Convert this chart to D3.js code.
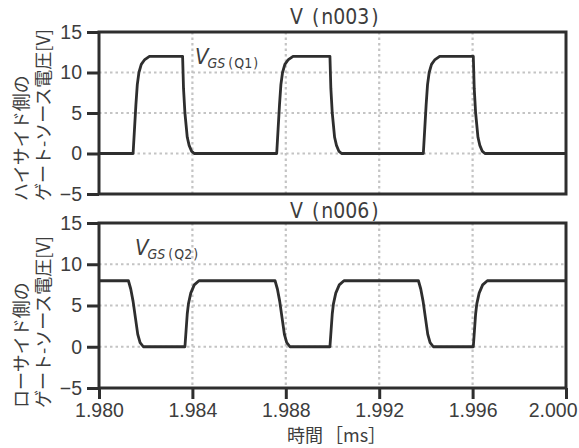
<!DOCTYPE html>
<html>
<head>
<meta charset="utf-8">
<script src="https://cdn.jsdelivr.net/npm/d3@7"></script>
<style>
  body { margin: 0; background: #fff; }
  text { font-family: "Noto Sans CJK JP", "Noto Sans", sans-serif; fill: #3d3d3d; }
  .num { font-family: "Liberation Sans", Arial, sans-serif; }
  .narrow { font-family: "Liberation Sans Narrow", "DejaVu Sans Condensed", "Liberation Sans", sans-serif; }
</style>
</head>
<body>
<script>
// time axis [ms] and voltage ticks
var timeTicks = [1.980, 1.984, 1.988, 1.992, 1.996, 2.000];
var voltTicks = [-5, 0, 5, 10, 15];
var gridVolts = [0, 5, 10];

// V(n003) : high side gate-source voltage, [time ms, volt]
var highSide = [
  [1.98000, 0],
  [1.98146, 0], [1.98152, 3], [1.98158, 6], [1.98164, 8.5], [1.98171, 10], [1.98181, 11], [1.98196, 11.6], [1.98216, 12],
  [1.98358, 12], [1.98362, 8], [1.98368, 5], [1.98378, 2], [1.98386, 1], [1.98396, 0.3], [1.98408, 0],
  [1.98761, 0], [1.98767, 3], [1.98773, 6], [1.98779, 8.5], [1.98786, 10], [1.98796, 11], [1.98811, 11.6], [1.98831, 12],
  [1.98989, 12], [1.98993, 8], [1.98999, 5], [1.99009, 2], [1.99017, 1], [1.99027, 0.3], [1.99039, 0],
  [1.99389, 0], [1.99395, 3], [1.99401, 6], [1.99407, 8.5], [1.99414, 10], [1.99424, 11], [1.99439, 11.6], [1.99459, 12],
  [1.99603, 12], [1.99607, 8], [1.99613, 5], [1.99623, 2], [1.99631, 1], [1.99641, 0.3], [1.99653, 0],
  [2.00000, 0]
];

// V(n006) : low side gate-source voltage
var lowSide = [
  [1.98000, 8],
  [1.98126, 8], [1.98136, 7], [1.98146, 5.5], [1.98156, 3.5], [1.98166, 1.5], [1.98176, 0.5], [1.98190, 0],
  [1.98368, 0], [1.98373, 2], [1.98378, 4], [1.98383, 5.2], [1.98393, 6.5], [1.98408, 7.5], [1.98428, 8],
  [1.98754, 8], [1.98764, 7], [1.98774, 5.5], [1.98784, 3.5], [1.98794, 1.5], [1.98804, 0.5], [1.98818, 0],
  [1.98989, 0], [1.98994, 2], [1.98999, 4], [1.99004, 5.2], [1.99014, 6.5], [1.99029, 7.5], [1.99049, 8],
  [1.99368, 8], [1.99378, 7], [1.99388, 5.5], [1.99398, 3.5], [1.99408, 1.5], [1.99418, 0.5], [1.99432, 0],
  [1.99603, 0], [1.99608, 2], [1.99613, 4], [1.99618, 5.2], [1.99628, 6.5], [1.99643, 7.5], [1.99663, 8],
  [2.00000, 8]
];

var panels = [
  {node: "n003", data: highSide, top: 32, bottom: 194, titleY: 24, label: ["ハイサイド側の", "ゲート-ソース電圧[V]"],
   labelBase: 201, note: {x: 195, y: 64, sub: "Q1"}},
  {node: "n006", data: lowSide, top: 223, bottom: 388, titleY: 218, label: ["ローサイド側の", "ゲート-ソース電圧[V]"],
   labelBase: 408, note: {x: 135, y: 255, sub: "Q2"}}
];

var width = 579, height = 448;
var svg = d3.select("body").append("svg")
    .attr("width", width)
    .attr("height", height);

var x = d3.scaleLinear().domain([1.980, 2.000]).range([99, 566]);
var ink = "#2e2e2e";

panels.forEach(function(p, i){
  var y = d3.scaleLinear().domain([-5, 15]).range([p.bottom, p.top]);
  var g = svg.append("g");

  // dotted grid
  g.selectAll(".hgrid").data(gridVolts).enter().append("line")
    .attr("x1", x.range()[0]).attr("x2", x.range()[1])
    .attr("y1", function(d){ return y(d); }).attr("y2", function(d){ return y(d); })
    .attr("stroke", "#c4c4c4").attr("stroke-width", 2.2).attr("stroke-dasharray", "2.5,3");
  g.selectAll(".vgrid").data(timeTicks.slice(1, -1)).enter().append("line")
    .attr("y1", p.top).attr("y2", p.bottom)
    .attr("x1", function(d){ return x(d); }).attr("x2", function(d){ return x(d); })
    .attr("stroke", "#c4c4c4").attr("stroke-width", 2.2).attr("stroke-dasharray", "2.5,3");

  // waveform
  var line = d3.line().x(function(d){ return x(d[0]); }).y(function(d){ return y(d[1]); });
  g.append("path").datum(p.data)
    .attr("d", line)
    .attr("fill", "none").attr("stroke", ink).attr("stroke-width", 2.8)
    .attr("stroke-linejoin", "round");

  // frame
  g.append("rect")
    .attr("x", x.range()[0]).attr("y", p.top)
    .attr("width", x.range()[1] - x.range()[0]).attr("height", p.bottom - p.top)
    .attr("fill", "none").attr("stroke", ink).attr("stroke-width", 3);

  // left axis
  var ay = g.append("g").attr("transform", "translate(" + x.range()[0] + ",0)")
    .call(d3.axisLeft(y).tickValues(voltTicks).tickSize(12).tickSizeOuter(0).tickPadding(5)
      .tickFormat(function(d){ return d < 0 ? "\u2212" + Math.abs(d) : d; }));
  ay.select(".domain").remove();
  ay.selectAll(".tick line").attr("stroke", ink).attr("stroke-width", 3);
  ay.selectAll(".tick text").attr("class", "num").attr("font-size", 19.5).attr("fill", "#3d3d3d");

  // title  V (n003)
  var t = g.append("text").attr("class", "narrow")
    .attr("x", 290).attr("y", p.titleY).attr("font-size", 21).attr("fill", "#444");
  t.append("tspan").text("V");
  t.append("tspan").attr("dx", 9).text("(");
  t.append("tspan").attr("dx", 2).text(p.node);
  t.append("tspan").attr("dx", 2).text(")");

  // y label, two rotated lines
  p.label.forEach(function(s, j){
    g.append("text")
      .attr("transform", "translate(" + (20 + j * 22) + "," + p.labelBase + ") rotate(-90)")
      .attr("dominant-baseline", "central")
      .attr("font-size", 18)
      .attr("fill", "#444")
      .text(s);
  });

  // V_GS annotation
  var n = g.append("text").attr("class", "narrow").attr("x", p.note.x).attr("y", p.note.y).attr("font-size", 22)
    .attr("fill", "#444");
  n.append("tspan").attr("font-style", "italic").text("V");
  n.append("tspan").attr("font-style", "italic").attr("font-size", 14).attr("dy", 4).attr("dx", -1).text("GS");
  n.append("tspan").attr("font-size", 14).attr("dx", 3).text("(");
  n.append("tspan").attr("font-size", 14).attr("dx", 1).text(p.note.sub);
  n.append("tspan").attr("font-size", 14).attr("dx", 1).text(")");

  // bottom axis only on the last panel
  if(i == panels.length - 1){
    var ax = g.append("g").attr("transform", "translate(0," + p.bottom + ")")
      .call(d3.axisBottom(x).tickValues(timeTicks).tickSize(11).tickSizeOuter(0).tickPadding(4)
        .tickFormat(d3.format(".3f")));
    ax.select(".domain").remove();
    ax.selectAll(".tick line").attr("stroke", ink).attr("stroke-width", 3);
    ax.selectAll(".tick text").attr("class", "num").attr("font-size", 19.5).attr("fill", "#3d3d3d");
    // last label pulled inside the page edge
    ax.selectAll(".tick text").filter(function(d){ return d == 2.000; })
      .attr("text-anchor", "end").attr("x", 11);
  }
});

var xl = svg.append("text")
  .attr("x", 287).attr("y", 442)
  .attr("font-size", 18)
  .attr("fill", "#444");
xl.append("tspan").text("時間");
xl.append("tspan").attr("dx", 2).text("［ms］");
</script>
</body>
</html>
